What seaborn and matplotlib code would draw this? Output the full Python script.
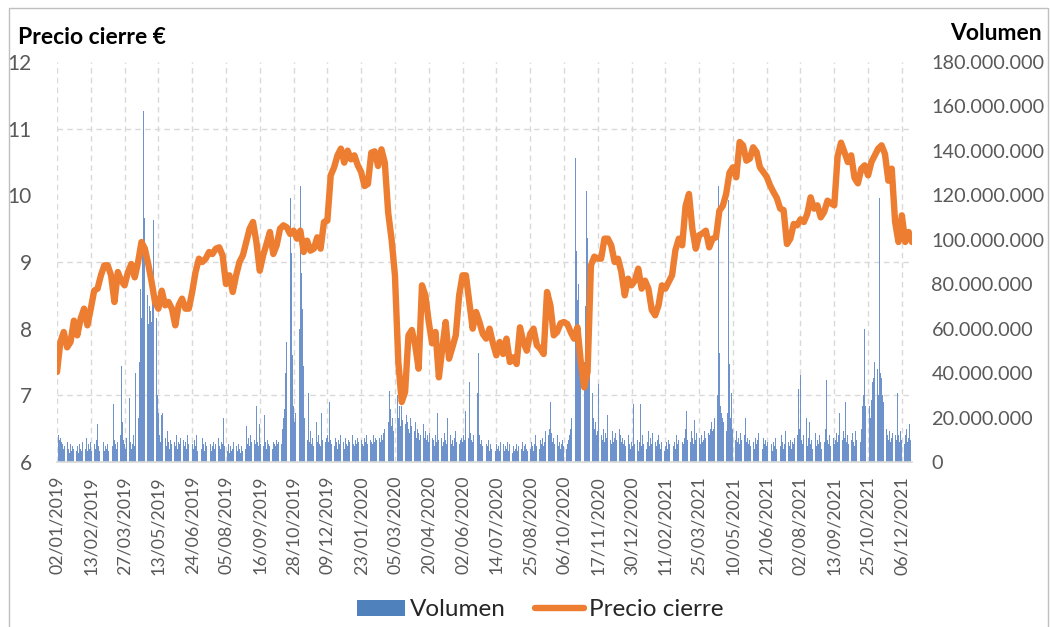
import numpy as np
import matplotlib
matplotlib.use("Agg")
import matplotlib.pyplot as plt
import seaborn as sns
from matplotlib.ticker import FuncFormatter
from matplotlib.patches import Patch, Rectangle
from matplotlib.lines import Line2D

# one tick label every 30 trading sessions
tick_labels = ["02/01/2019", "13/02/2019", "27/03/2019", "13/05/2019", "24/06/2019",
               "05/08/2019", "16/09/2019", "28/10/2019", "09/12/2019", "23/01/2020",
               "05/03/2020", "20/04/2020", "02/06/2020", "14/07/2020", "25/08/2020",
               "06/10/2020", "17/11/2020", "30/12/2020", "11/02/2021", "25/03/2021",
               "10/05/2021", "21/06/2021", "02/08/2021", "13/09/2021", "25/10/2021",
               "06/12/2021"]
SESSIONS_PER_TICK = 30

# daily volume, millions of shares (one row = 30 sessions)
volume_m = [
    25, 12, 10, 11, 9, 8, 6, 7, 5, 9, 6, 4, 8, 5, 7, 6, 10, 5, 7, 4, 8, 6, 5, 9, 7, 6, 11, 5, 8, 6,
    9, 5, 7, 8, 6, 10, 17, 7, 5, 8, 6, 9, 5, 7, 6, 8, 5, 9, 12, 7, 26, 10, 8, 6, 9, 5, 12, 43, 18, 10,
    8, 6, 11, 7, 29, 9, 6, 8, 12, 7, 40, 10, 20, 45, 78, 65, 95, 158, 110, 90, 75, 62, 70, 68, 63, 80, 109, 94, 65, 30,
    22, 12, 9, 21, 22, 8, 11, 7, 14, 9, 6, 10, 8, 18, 9, 7, 12, 6, 9, 8, 11, 21, 10, 7, 9, 6, 12, 8, 7, 15,
    8, 6, 10, 7, 12, 5, 9, 7, 6, 11, 8, 5, 9, 7, 10, 6, 8, 5, 7, 9, 6, 8, 5, 11, 7, 6, 9, 8, 20, 7,
    6, 5, 8, 4, 7, 5, 6, 9, 4, 7, 5, 8, 6, 4, 7, 5, 9, 6, 16, 8, 11, 7, 12, 9, 14, 10, 8, 25, 9, 7,
    17, 8, 11, 7, 21, 9, 6, 10, 8, 7, 12, 6, 9, 8, 7, 10, 8, 9, 12, 8, 15, 20, 24, 40, 54, 95, 80, 119, 94, 48,
    25, 18, 22, 30, 45, 60, 124, 85, 69, 43, 20, 12, 10, 31, 9, 14, 8, 11, 7, 10, 18, 9, 12, 8, 7, 22, 10, 13, 9, 11,
    12, 9, 27, 10, 8, 13, 7, 11, 9, 6, 10, 8, 12, 7, 9, 6, 11, 8, 7, 10, 9, 6, 12, 8, 7, 10, 8, 11, 9, 13,
    10, 8, 7, 11, 9, 12, 8, 7, 10, 9, 8, 12, 9, 11, 10, 14, 11, 9, 12, 10, 13, 15, 12, 14, 18, 32, 24, 16, 20, 14,
    22, 18, 30, 20, 25, 16, 25, 19, 14, 17, 21, 18, 15, 13, 20, 16, 12, 14, 18, 11, 15, 13, 10, 12, 9, 17, 11, 14, 10, 12,
    9, 13, 8, 11, 10, 7, 12, 9, 22, 10, 8, 11, 7, 9, 13, 10, 8, 20, 9, 12, 8, 10, 7, 11, 14, 9, 12, 8, 10, 11,
    9, 12, 10, 23, 15, 11, 36, 13, 10, 9, 12, 14, 11, 31, 49, 12, 8, 10, 7, 9, 6, 8, 7, 10, 5, 8, 6, 9, 7, 5,
    8, 6, 7, 5, 9, 6, 8, 5, 7, 6, 9, 5, 8, 6, 4, 7, 5, 6, 8, 5, 7, 4, 6, 9, 5, 7, 8, 6, 5, 7,
    6, 9, 7, 5, 8, 12, 7, 9, 6, 10, 8, 11, 7, 9, 14, 10, 12, 15, 27, 13, 9, 11, 8, 10, 12, 7, 9, 6, 8, 10,
    7, 9, 6, 8, 10, 12, 15, 20, 23, 60, 137, 95, 73, 80, 50, 39, 30, 35, 45, 70, 122, 101, 78, 42, 25, 31, 20, 15, 18, 12,
    14, 35, 16, 12, 10, 15, 9, 13, 11, 21, 12, 10, 8, 14, 9, 11, 13, 10, 39, 15, 12, 9, 11, 8, 10, 7, 9, 12, 8, 6,
    9, 7, 26, 8, 6, 10, 5, 9, 26, 7, 12, 8, 10, 6, 9, 14, 7, 11, 8, 13, 6, 9, 7, 10, 12, 8, 6, 9, 7, 5,
    7, 9, 6, 10, 8, 5, 11, 7, 9, 6, 12, 8, 10, 7, 13, 9, 8, 11, 15, 23, 10, 12, 9, 14, 11, 8, 19, 10, 13, 9,
    11, 8, 12, 9, 10, 14, 11, 9, 13, 12, 15, 18, 14, 15, 20, 20, 30, 124, 49, 25, 22, 20, 18, 16, 14, 22, 118, 44, 20, 31,
    15, 12, 10, 14, 9, 11, 8, 13, 10, 7, 12, 20, 9, 11, 8, 10, 7, 14, 9, 6, 11, 8, 10, 13, 7, 9, 6, 11, 8, 10,
    7, 9, 6, 10, 8, 5, 9, 7, 11, 6, 8, 10, 7, 12, 9, 6, 8, 14, 20, 9, 7, 10, 6, 9, 8, 11, 7, 12, 33, 15,
    39, 10, 8, 12, 9, 20, 7, 11, 18, 8, 10, 6, 9, 13, 7, 10, 8, 12, 9, 6, 11, 9, 15, 37, 10, 8, 12, 7, 9, 11,
    8, 10, 13, 9, 12, 22, 22, 10, 14, 11, 27, 9, 12, 8, 11, 10, 13, 9, 7, 14, 10, 29, 12, 9, 15, 25, 30, 60, 25, 24,
    96, 25, 20, 28, 36, 38, 45, 39, 42, 30, 119, 40, 38, 30, 27, 20, 15, 12, 10, 14, 9, 11, 13, 8, 12, 10, 31, 12, 9, 14,
    10, 13, 8, 12, 15, 9, 11, 17, 10, 14,
]

# closing price (EUR), one value every 3 sessions
PRICE_STEP = 3
price = [
    7.35, 7.8, 7.95, 7.72, 7.8, 8.12, 7.9, 8.15, 8.3, 8.05,
    8.3, 8.57, 8.6, 8.8, 8.95, 8.95, 8.8, 8.4, 8.85, 8.72,
    8.65, 8.85, 8.97, 8.77, 9.0, 9.3, 9.2, 8.97, 8.7, 8.4,
    8.3, 8.57, 8.35, 8.4, 8.3, 8.05, 8.35, 8.45, 8.3, 8.3,
    8.55, 8.85, 9.05, 9.0, 9.05, 9.15, 9.12, 9.2, 9.22, 9.1,
    8.67, 8.8, 8.55, 8.8, 9.0, 9.1, 9.3, 9.5, 9.6, 9.3,
    8.87, 9.1, 9.27, 9.45, 9.12, 9.25, 9.5, 9.55, 9.52, 9.42,
    9.47, 9.35, 9.47, 9.15, 9.32, 9.17, 9.2, 9.37, 9.2, 9.6,
    9.62, 10.3, 10.42, 10.6, 10.7, 10.49, 10.67, 10.54, 10.6, 10.45,
    10.35, 10.14, 10.17, 10.64, 10.66, 10.44, 10.69, 10.49, 9.74, 9.34,
    8.8, 7.5, 6.9, 7.05, 7.9, 7.98, 7.75, 7.4, 8.65, 8.5,
    8.1, 7.78, 7.95, 7.27, 7.7, 8.1, 7.55, 7.72, 7.9, 8.5,
    8.8, 8.8, 8.4, 8.0, 8.25, 8.1, 7.92, 7.85, 8.0, 7.78,
    7.6, 7.8, 7.62, 7.85, 7.5, 7.57, 7.47, 8.02, 7.8, 7.67,
    7.92, 8.0, 7.75, 7.7, 7.62, 8.55, 8.35, 7.9, 7.95, 8.08,
    8.1, 8.07, 7.95, 7.85, 8.02, 7.5, 7.12, 7.35, 8.95, 9.08,
    9.05, 9.05, 9.35, 9.35, 9.25, 9.0, 9.05, 8.85, 8.5, 8.75,
    8.65, 8.72, 8.9, 8.6, 8.72, 8.6, 8.28, 8.2, 8.35, 8.65,
    8.6, 8.7, 8.8, 9.18, 9.35, 9.25, 9.84, 10.02, 9.5, 9.2,
    9.4, 9.43, 9.47, 9.22, 9.35, 9.37, 9.77, 9.84, 10.02, 10.34,
    10.42, 10.27, 10.8, 10.75, 10.52, 10.55, 10.72, 10.65, 10.42, 10.35,
    10.28, 10.15, 10.05, 9.96, 9.8, 9.78, 9.27, 9.35, 9.57, 9.55,
    9.64, 9.6, 9.72, 9.97, 9.8, 9.85, 9.67, 9.75, 9.92, 9.88,
    9.85, 10.59, 10.79, 10.65, 10.5, 10.6, 10.26, 10.18, 10.4, 10.45,
    10.3, 10.5, 10.6, 10.7, 10.75, 10.62, 10.22, 10.4, 9.6, 9.3,
    9.7, 9.3, 9.45, 9.3,
]

BLUE = "#4F81BD"
BAR_BLUE = "#6E93CC"
ORANGE = "#ED7D31"
GRID = "#D9D9D9"
TEXT = "#595959"

sns.set_theme(style="white")
plt.rcParams["font.family"] = ["Lato", "DejaVu Sans"]

W, H = 1051, 627
fig = plt.figure(figsize=(W / 100, H / 100), dpi=100)
ax = fig.add_axes([57 / W, 1 - 462 / H, (912 - 57) / W, 400 / H])

days = np.arange(len(volume_m))
ax.bar(days, np.array(volume_m) * 1e6, width=0.75, color=BAR_BLUE, linewidth=0, zorder=2)
ax.set_xlim(0, len(volume_m) - 1)
ax.set_ylim(0, 180e6)
ax.set_axisbelow(True)

ax2 = ax.twinx()
price_days = np.arange(len(price)) * PRICE_STEP
sns.lineplot(x=price_days, y=price, ax=ax2, color=ORANGE, linewidth=4.6, legend=False)
for ln in ax2.lines:
    ln.set_solid_joinstyle("round")
    ln.set_solid_capstyle("round")
ax2.set_ylim(6, 12)
ax2.set_xlim(0, len(volume_m) - 1)
ax2.set_ylabel("")
ax2.set_xlabel("")

# volume axis on the right, price axis on the left
ax.yaxis.tick_right()
ax2.yaxis.tick_left()
ax.set_yticks(np.arange(0, 180e6 + 1, 20e6))
ax.yaxis.set_major_formatter(FuncFormatter(lambda v, p: f"{v:,.0f}".replace(",", ".")))
ax.set_yticks(np.arange(0, 180e6 + 1, 30e6), minor=True)
ax2.set_yticks(range(6, 13))

ax.set_xticks(np.arange(len(tick_labels)) * SESSIONS_PER_TICK)
ax.set_xticklabels(tick_labels, rotation=90)

ax.grid(axis="x", which="major", color=GRID, linestyle=(0, (4, 3)), linewidth=1)
ax.grid(axis="y", which="minor", color=GRID, linestyle=(0, (4, 3)), linewidth=1)
ax.grid(axis="y", which="major", visible=False)

ax.tick_params(axis="x", length=0, pad=10, labelsize=12.8, colors=TEXT)
ax.tick_params(axis="y", which="both", length=0, pad=14, labelsize=14.3, colors=TEXT)
ax2.tick_params(axis="y", length=0, pad=18, labelsize=15, colors=TEXT)

for a in (ax, ax2):
    for s in a.spines.values():
        s.set_visible(False)
ax.spines["bottom"].set_visible(True)
ax.spines["bottom"].set_color(GRID)

fig.text(18 / W, 1 - 37 / H, "Precio cierre €", fontsize=16.5, fontweight="bold",
         ha="left", va="center", color="black")
fig.text(1042 / W, 1 - 34 / H, "Volumen", fontsize=16.5, fontweight="bold",
         ha="right", va="center", color="black")

handles = [Patch(facecolor=BLUE, edgecolor="none"),
           Line2D([], [], color=ORANGE, linewidth=4.6)]
fig.legend(handles, ["Volumen", "Precio cierre"], loc="center",
           bbox_to_anchor=(540 / W, 1 - 610 / H), ncol=2, frameon=False,
           fontsize=17.5, handlelength=2.0, handleheight=0.66,
           columnspacing=1.2, handletextpad=0.2)

fig.add_artist(Rectangle((9 / W, -0.01), (1048 - 9) / W, 1 - 8 / H + 0.01,
                         transform=fig.transFigure, fill=False,
                         edgecolor="#BFBFBF", linewidth=1))

fig.savefig("out.png", dpi=100)
